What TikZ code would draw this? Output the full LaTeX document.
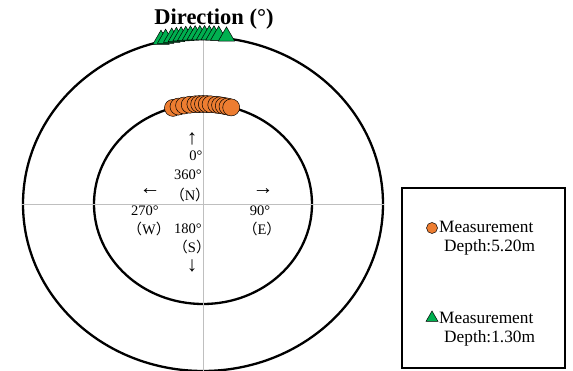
\documentclass[tikz,border=0pt]{standalone}
\usepackage{fontspec}
\setmainfont{Liberation Serif}
\newfontfamily\cjk{Noto Sans CJK SC}
\usetikzlibrary{shapes.geometric, positioning}
\definecolor{deeporange}{RGB}{237,125,49}
\definecolor{shallowgreen}{RGB}{0,176,80}

\begin{document}
\begin{tikzpicture}[
    x=1pt, y=-1pt,
    ring/.style={ellipse, draw, line width=2.3pt, inner sep=0pt},
    axis/.style={draw=black!25, line width=0.8pt},
    deep/.style={circle, draw, fill=deeporange, line width=0.5pt, minimum size=17pt, inner sep=0pt},
    shallow/.style={regular polygon, regular polygon sides=3, draw, fill=shallowgreen, line width=0.5pt, minimum size=19pt, inner sep=0pt},
    lbl/.style={inner sep=0pt, font=\fontsize{14.5}{16}\selectfont},
    pointer/.style={inner sep=0pt, font=\fontsize{21}{22}\selectfont},
    legendtext/.style={inner sep=0pt, anchor=west, font=\fontsize{17.3}{19}\selectfont}
]

\useasboundingbox (0,0) rectangle (573,371);

% rings and axes
\node[ring, minimum width=360pt, minimum height=334pt] (outer) at (203,204) {};
\node[ring, minimum width=218pt, minimum height=200pt] (inner) at (203,204) {};
\draw[axis] (outer.west) -- (outer.east);
\draw[axis] (outer.north) -- (outer.south);

% title
\node[font=\bfseries\fontsize{22.5}{25}\selectfont, inner sep=0pt] (title) at (214,19) {Direction (°)};

% measurements, 5.20m
\foreach \a [count=\i] in {-16,-13,-10,-7,-4,-2,0,2,4,7,9,11,13,15}
    \node[deep] (d\i) at ({203+109*sin(\a)},{204-100*cos(\a)}) {};

% measurements, 1.30m
\foreach \a [count=\i] in {-13.5,-12,-10,-8.5,-7,-5.5,-4,-2.5,-1,0.5,2,3.5,5,7.5}
    \node[shallow] (s\i) at ({203+180*sin(\a)},{202-167*cos(\a)}) {};

% compass labels
\node[pointer] (up) at (192,139) {↑};
\node[lbl] (zero) at (196,156) {0°};
\node[lbl] (full) at (188,175) {360°};
\node[lbl] (north) at (190,195) {{\cjk （}N{\cjk ）}};
\node[pointer] (left) at (150,192) {←};
\node[lbl] (west) at (145,211) {270°};
\node[lbl] (westname) at (149,229) {{\cjk （}W{\cjk ）}};
\node[lbl] (south) at (188,229) {180°};
\node[lbl] (southname) at (192,247) {{\cjk （}S{\cjk ）}};
\node[pointer] (down) at (192,266) {↓};
\node[pointer] (right) at (263,192) {→};
\node[lbl] (east) at (260,211) {90°};
\node[lbl] (eastname) at (262,229) {{\cjk （}E{\cjk ）}};

% legend
\node[draw, line width=1.6pt, minimum width=163pt, minimum height=180pt] (legend) at (483.5,278) {};
\node[deep, minimum size=11pt] (key1) at (432,228) {};
\node[legendtext] (key1a) at (439,227) {Measurement};
\node[legendtext] (key1b) at (444,247) {Depth:5.20m};
\node[shallow, minimum size=14pt] (key2) at (432,318) {};
\node[legendtext] (key2a) at (439,318) {Measurement};
\node[legendtext] (key2b) at (444,338) {Depth:1.30m};

\end{tikzpicture}
\end{document}
